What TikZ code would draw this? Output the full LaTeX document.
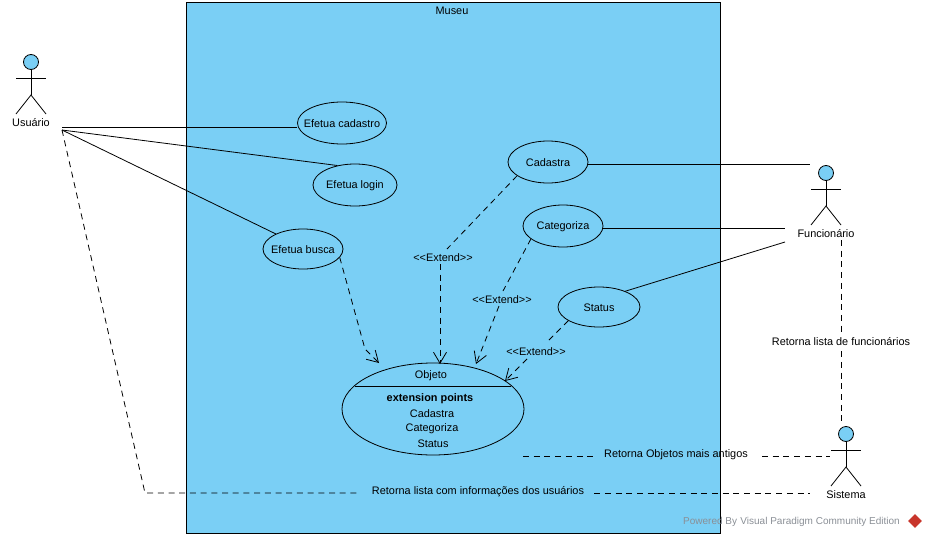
\documentclass[tikz,border=0pt]{standalone}
\usepackage{fontspec}
\setmainfont{Liberation Sans}
\usetikzlibrary{arrows.meta,shapes.geometric}
\definecolor{MUblue}{HTML}{7ACFF5}
\definecolor{MUgray}{HTML}{8A8F96}
\definecolor{MUred}{HTML}{C8352B}
\begin{document}
\begin{tikzpicture}[
    x=1pt, y=-1pt,
    font=\fontsize{10.9}{13}\selectfont,
    every label/.style={yshift=-1pt},
    casebox/.style={
      ellipse, draw=black, fill=MUblue, inner sep=0pt,
      minimum width=#1, line width=0.8pt
    },
    actorlbl/.style={inner sep=1pt, yshift=-1pt},
    assoc/.style={line width=0.8pt},
    dashline/.style={line width=0.8pt, dash pattern=on 6pt off 4.7pt},
    extarr/.style={dashline, -{Straight Barb[length=11pt,width=13pt]}},
    plainlbl/.style={inner sep=0pt, yshift=-1pt}
  ]
  \useasboundingbox (0,0) rectangle (927,538);

  % Container
  \node[draw=black, fill=MUblue, line width=0.8pt, minimum width=534pt, minimum height=531pt,
    inner sep=0pt] (museu) at (453,267.5) {};
  \node[plainlbl] (museulbl) at (452,10) {Museu};

  % Use cases
  \node[casebox=89pt, minimum height=42pt, label=center:{Efetua cadastro}] (cadastro) at (342,123) {};
  \node[casebox=84pt, minimum height=42pt, label=center:{Efetua login}] (login) at (355,185) {};
  \node[casebox=80pt, minimum height=40pt, label=center:{Efetua busca}] (busca) at (303,249) {};
  \node[casebox=80pt, minimum height=42pt, label=center:{Cadastra}] (cadastra) at (548,162) {};
  \node[casebox=80pt, minimum height=42pt, label=center:{Categoriza}] (categoriza) at (563,226) {};
  \node[casebox=82pt, minimum height=40pt, label=center:{Status}] (status) at (599,307) {};

  % Extended use case
  \node[casebox=182pt, minimum height=92pt] (objeto) at (433,409) {};
  \coordinate (sepl) at (355,386);
  \coordinate (sepr) at (511,386);
  \draw[line width=0.8pt] (sepl) -- (sepr);
  \node[plainlbl] (objlbl) at (431,375) {Objeto};
  \node[plainlbl, font=\fontsize{10.9}{13}\selectfont\bfseries] (extlbl) at (430,398) {extension points};
  \node[plainlbl] (extcad) at (432,413) {Cadastra};
  \node[plainlbl] (extcat) at (432,428) {Categoriza};
  \node[plainlbl] (extsta) at (433,443) {Status};

  % Actors
  \foreach \name/\cx/\hy/\lbl in {usuario/31/62/Usuário, funcionario/826/173/Funcionário, sistema/846/434/Sistema} {
    \node[circle, draw=black, fill=MUblue, minimum size=15pt, inner sep=0pt, line width=0.8pt]
      (\name) at (\cx,\hy) {};
    \coordinate (\name arml) at (\cx-15,\hy+16);
    \coordinate (\name armr) at (\cx+15,\hy+16);
    \coordinate (\name hip) at (\cx,\hy+33);
    \coordinate (\name legl) at (\cx-15,\hy+52);
    \coordinate (\name legr) at (\cx+15,\hy+52);
    \draw[assoc] (\name.south) -- (\name hip);
    \draw[assoc] (\name arml) -- (\name armr);
    \draw[assoc] (\name legl) -- (\name hip) -- (\name legr);
    \node[actorlbl] (\name lbl) at (\cx,\hy+60) {\lbl};
  }

  % Free ends
  \coordinate (usuend) at (62,130);
  \coordinate (usucad) at (62,127);
  \coordinate (cadend) at (810,164);
  \coordinate (catend) at (785,228);
  \coordinate (staend) at (785,242);
  \coordinate (funtop) at (841,240);
  \coordinate (sistop) at (841,425);
  \coordinate (retl) at (523,456);
  \coordinate (retr) at (830,456);
  \coordinate (bend) at (145,493);
  \coordinate (sisend) at (810,493);
  \coordinate (buscaA) at (365,349);

  % Associations
  \draw[assoc] (usucad) -- (cadastro.west |- usucad);
  \draw[assoc] (usuend) -- (login.132);
  \draw[assoc] (usuend) -- (busca.151);
  \draw[assoc] (cadastra.east |- cadend) -- (cadend);
  \draw[assoc] (categoriza.east |- catend) -- (catend);
  \draw[assoc] (status.31) -- (staend);

  % Extend arrows
  \node[plainlbl] (extA) at (443,257) {<{}<Extend>{}>};
  \node[plainlbl] (extB) at (502,299) {<{}<Extend>{}>};
  \node[plainlbl] (extC) at (536,351) {<{}<Extend>{}>};
  \coordinate (extAup) at (447,249);
  \coordinate (extAdown) at (440,264);
  \coordinate (objA) at (440,364);
  \coordinate (extBup) at (503,291);
  \coordinate (extBdown) at (499,306);
  \coordinate (objB) at (476,364);
  \coordinate (extCup) at (546,343);
  \coordinate (extCdown) at (527,359);
  \coordinate (objC) at (505,381);
  \coordinate (objD) at (379,363);
  \draw[dashline] (cadastra.204) -- (extAup);
  \draw[extarr] (extAdown) -- (objA);
  \draw[dashline] (categoriza.202) -- (extBup);
  \draw[extarr] (extBdown) -- (objB);
  \draw[dashline] (status.204) -- (extCup);
  \draw[extarr] (extCdown) -- (objC);
  \draw[extarr] (busca.347) -- (buscaA) -- (objD);

  % Long dashed lines
  \node[plainlbl] (retfun) at (841,341) {Retorna lista de funcionários};
  \draw[dashline] (funtop) -- ([yshift=5pt]retfun.north);
  \draw[dashline] ([yshift=-5pt]retfun.south) -- (sistop);
  \node[plainlbl] (retobj) at (676,454) {Retorna Objetos mais antigos};
  \draw[dashline] (retl) -- ([xshift=-10pt]retobj.west |- retl);
  \draw[dashline] ([xshift=14pt]retobj.east |- retl) -- (retr);
  \node[plainlbl] (retusu) at (478,491) {Retorna lista com informações dos usuários};
  \draw[dashline] (usuend) -- (bend) -- ([xshift=-12pt]retusu.west |- bend);
  \draw[dashline] ([xshift=10pt]retusu.east |- bend) -- (sisend);

  % Footer
  \node[plainlbl, text=MUgray, font=\fontsize{10}{12}\selectfont, anchor=east] (powered) at (900,521)
    {Powered By\,\,Visual Paradigm Community Edition};
  \node[diamond, fill=MUred, minimum size=14pt, inner sep=0pt] (vplogo) at (915,521) {};
\end{tikzpicture}
\end{document}
